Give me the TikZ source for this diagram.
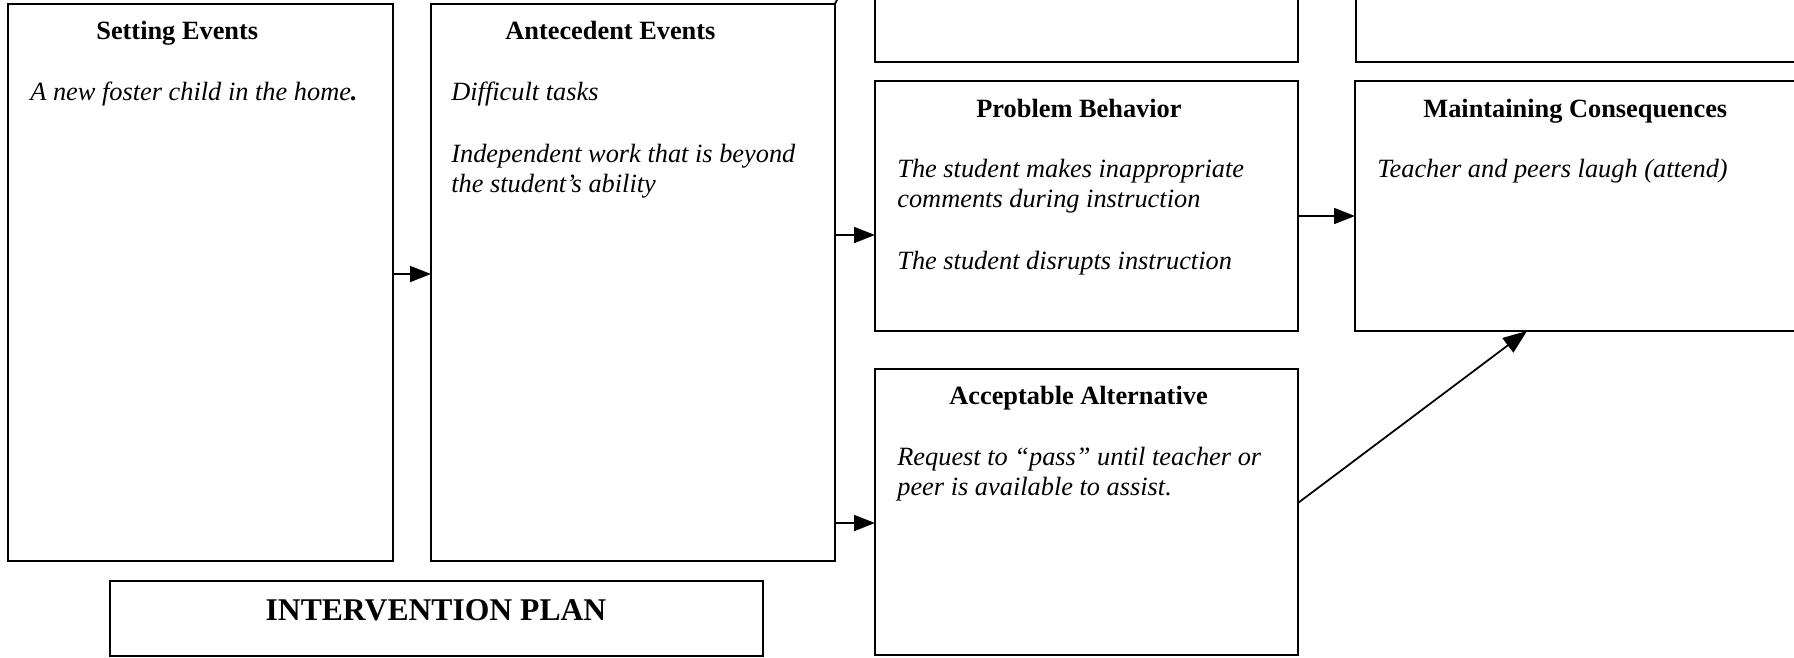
\documentclass[tikz,border=0pt]{standalone}
\usepackage{fontspec}
\setmainfont{Liberation Serif}
\usetikzlibrary{arrows.meta,calc}
\begin{document}
\begin{tikzpicture}[x=0.02cm,y=-0.02cm,
  box/.style={draw,line width=1pt,rectangle,inner sep=0pt,outer sep=0pt,anchor=north west},
  ttl/.style={anchor=base west,inner sep=0pt,font=\fontsize{15}{17}\selectfont\bfseries},
  body/.style={anchor=base west,inner sep=0pt,font=\fontsize{15}{17}\selectfont\itshape},
  arr/.style={line width=1pt,-{Triangle[length=0.42cm,width=0.32cm]}}]
\useasboundingbox (0,0) rectangle (1794,657);
\clip (0,0) rectangle (1794,657);
% boxes
\node[box,minimum width=7.70cm,minimum height=11.14cm] (set) at (8,4) {};
\node[box,minimum width=8.08cm,minimum height=11.14cm] (ant) at (431,4) {};
\node[box,minimum width=8.46cm,minimum height=1.64cm] (topa) at (875,-20) {};
\node[box,minimum width=9.08cm,minimum height=1.64cm] (topb) at (1356,-20) {};
\node[box,minimum width=8.46cm,minimum height=5.00cm] (prob) at (875,81) {};
\node[box,minimum width=9.10cm,minimum height=5.00cm] (maint) at (1355,81) {};
\node[box,minimum width=8.46cm,minimum height=5.72cm] (alt) at (875,369) {};
\node[box,minimum width=13.06cm,minimum height=1.50cm] (interv) at (110,581) {};
% titles
\node[ttl] (tset) at (96,39) {Setting Events};
\node[ttl] (tant) at (505,39) {Antecedent Events};
\node[ttl] (tprob) at (976,117) {Problem Behavior};
\node[ttl] (tmaint) at (1423,117) {Maintaining Consequences};
\node[ttl] (talt) at (949,404) {Acceptable Alternative};
\node[anchor=base,inner sep=0pt,font=\fontsize{18}{20}\selectfont\bfseries] (tinterv) at (436,620) {INTERVENTION PLAN};
% body texts
\node[body] (bset) at (30,100) {A new foster child in the home\textbf{.}};
\node[body] (bant1) at (451,100) {Difficult tasks};
\node[body] (bant2) at (451,162) {Independent work that is beyond};
\node[body] (bant3) at (451,192) {the student’s ability};
\node[body] (bprob1) at (897,177) {The student makes inappropriate};
\node[body] (bprob2) at (897,207) {comments during instruction};
\node[body] (bprob3) at (897,269) {The student disrupts instruction};
\node[body] (bmaint) at (1377,177) {Teacher and peers laugh (attend)};
\node[body] (balt1) at (897,465) {Request to “pass” until teacher or};
\node[body] (balt2) at (897,495) {peer is available to assist.};
% connector heights
\coordinate (y1) at (0,274);
\coordinate (y2) at (0,235);
\coordinate (y3) at (0,523);
\coordinate (y4) at (0,216);
\coordinate (y5) at (0,503);
% connectors
\draw[arr] (set.east |- y1) -- (ant.west |- y1);
\draw[arr] (ant.east |- y2) -- (prob.west |- y2);
\draw[arr] (ant.east |- y3) -- (alt.west |- y3);
\draw[arr] (prob.east |- y4) -- (maint.west |- y4);
\draw[line width=1pt,-{Triangle[length=0.48cm,width=0.36cm]}] (alt.east |- y5) -- ($(maint.south west)+(172,0)$);
\draw[line width=1pt] (ant.north east) -- ++(3,-6);
\end{tikzpicture}
\end{document}
